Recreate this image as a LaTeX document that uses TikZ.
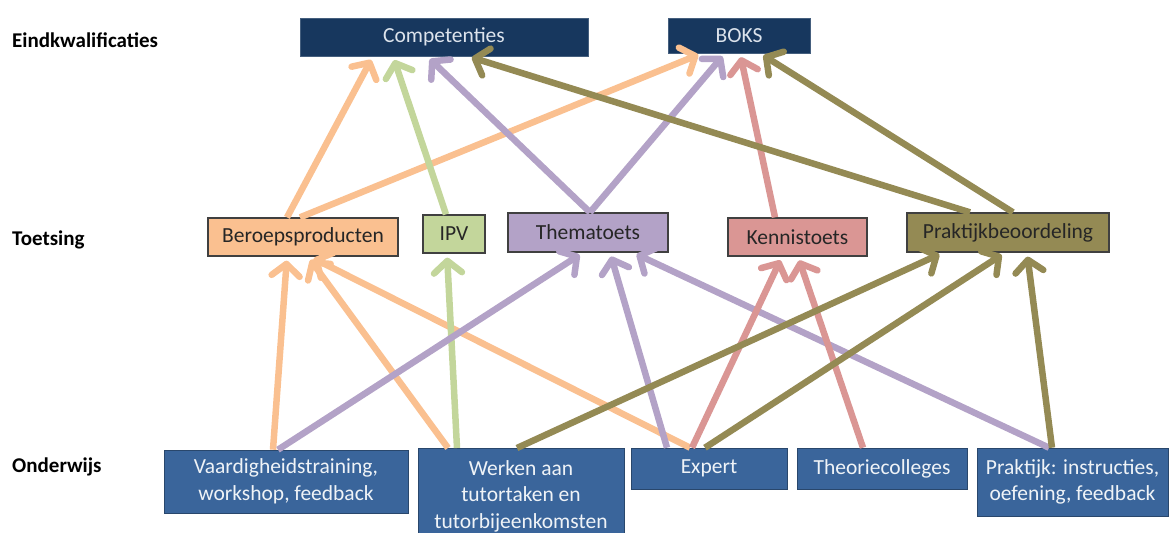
\documentclass[tikz,border=0pt]{standalone}
\usepackage{fontspec}
\setmainfont{Carlito}
\usetikzlibrary{arrows.meta}

\definecolor{navy}{HTML}{17375E}
\definecolor{midblue}{HTML}{3A659B}
\definecolor{ltext}{HTML}{DCE3EC}
\definecolor{cOrange}{HTML}{FAC090}
\definecolor{cGreen}{HTML}{C3D69B}
\definecolor{cPurple}{HTML}{B3A2C7}
\definecolor{cPink}{HTML}{DA9694}
\definecolor{cOlive}{HTML}{948A54}
\definecolor{edge}{HTML}{404040}

\tikzset{
  box/.style={rectangle, inner sep=0pt, align=center, font=\fontsize{21.5}{26.5}\selectfont},
  topbox/.style={box, fill=navy, draw=navy!80!white, line width=0.6pt, text=ltext},
  testbox/.style={box, draw=edge, line width=1.3pt, text=black!85},
  edubox/.style={box, fill=midblue, draw=midblue!70!black, line width=0.6pt, text=white!92!midblue},
  rowlabel/.style={anchor=west, inner sep=0pt, font=\fontsize{21}{24}\selectfont\bfseries},
  link/.style={line width=6.5pt, shorten >=4pt,
    -{Straight Barb[length=12pt,width=28pt,line cap=round,line join=round]}},
}

\begin{document}
\begin{tikzpicture}[x=1pt,y=-1pt]
\useasboundingbox (0,0) rectangle (1171,533);
\clip (0,0) rectangle (1171,533);

% row labels
\node[rowlabel] (l1) at (12,40) {Eindkwalificaties};
\node[rowlabel] (l2) at (12,240) {Toetsing};
\node[rowlabel] (l3) at (12,467) {Onderwijs};

% end qualifications
\node[topbox, minimum width=288pt, minimum height=38pt] (comp) at (444,37) {Competenties};
\node[topbox, minimum width=142pt, minimum height=35pt] (boks) at (739,35.5) {BOKS};

% assessment
\node[testbox, fill=cOrange, minimum width=190pt, minimum height=38pt] (ber) at (303,237) {Beroepsproducten};
\node[testbox, fill=cGreen, minimum width=62pt, minimum height=38pt] (ipv) at (454,234) {IPV};
\node[testbox, fill=cPurple, minimum width=160pt, minimum height=39pt] (thema) at (588,232.5) {Thematoets};
\node[testbox, fill=cPink, minimum width=139pt, minimum height=38pt] (kennis) at (797.5,237) {Kennistoets};
\node[testbox, fill=cOlive, minimum width=202pt, minimum height=39pt] (pbeo) at (1008,232.5) {Praktijkbeoordeling};

% education
\node[edubox, minimum width=244pt, minimum height=63pt] (vaard) at (286,481.5) {Vaardigheidstraining,\\workshop, feedback};
\node[edubox, minimum width=206pt, minimum height=96pt, anchor=north] (werken) at (521,448) {Werken aan\\tutortaken en\\tutorbijeenkomsten};
\node[edubox, minimum width=156pt, minimum height=41pt] (expert) at (709,468.5) {Expert};
\node[edubox, minimum width=170pt, minimum height=41pt] (theorie) at (882,468.5) {Theoriecolleges};
\node[edubox, minimum width=191pt, minimum height=68pt] (prak) at (1072.5,482) {Praktijk: instructies,\\oefening, feedback};

% orange links
\draw[link, cOrange] ([xshift=-16pt]ber.north) -- ([xshift=-71pt]comp.south);
\draw[link, cOrange] ([xshift=-3pt]ber.north) -- ([xshift=-37pt]boks.south);
\draw[link, cOrange] ([xshift=-13pt]vaard.north) -- ([xshift=-16pt]ber.south);
\draw[link, cOrange] ([xshift=-73pt]werken.north) -- ([xshift=5pt]ber.south);
\draw[link, cOrange] ([xshift=-19pt]expert.north) -- ([xshift=7pt]ber.south);

% green links
\draw[link, cGreen] ([xshift=-8pt]ipv.north) -- ([xshift=-51pt]comp.south);
\draw[link, cGreen] ([xshift=-64pt]werken.north) -- ([xshift=-7pt]ipv.south);

% purple links
\draw[link, cPurple] ([xshift=2pt]thema.north) -- ([xshift=-17pt]comp.south);
\draw[link, cPurple] ([xshift=2pt]thema.north) -- ([xshift=-14pt]boks.south);
\draw[link, cPurple] ([xshift=-8pt]vaard.north) -- ([xshift=-5pt]thema.south);
\draw[link, cPurple] ([xshift=-42pt]expert.north) -- ([xshift=22pt]thema.south);
\draw[link, cPurple] ([xshift=-23.5pt]prak.north) -- ([xshift=45pt]thema.south);

% pink links
\draw[link, cPink] ([xshift=-22.5pt]kennis.north) -- ([xshift=1pt]boks.south);
\draw[link, cPink] ([xshift=-17pt]expert.north) -- ([xshift=-15.5pt]kennis.south);
\draw[link, cPink] ([xshift=-19pt]theorie.north) -- ([xshift=0.5pt]kennis.south);

% olive links
\draw[link, cOlive] ([xshift=5pt]pbeo.north) -- ([xshift=21pt]boks.south);
\draw[link, cOlive] ([xshift=-38pt]pbeo.north) -- ([xshift=24pt]comp.south);
\draw[link, cOlive] ([xshift=-4pt]werken.north) -- ([xshift=-65pt]pbeo.south);
\draw[link, cOlive] ([xshift=-4pt]expert.north) -- ([xshift=-3pt]pbeo.south);
\draw[link, cOlive] ([xshift=-20.5pt]prak.north) -- ([xshift=19pt]pbeo.south);
\end{tikzpicture}
\end{document}
